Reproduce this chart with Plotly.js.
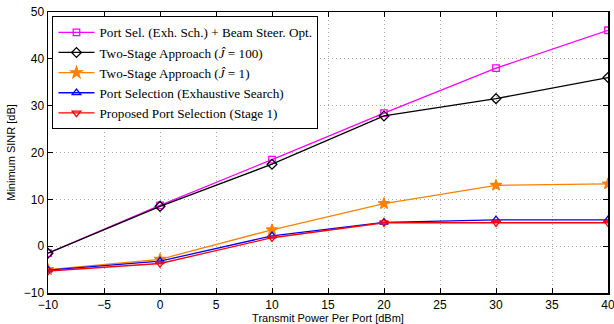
<!DOCTYPE html>
<html><head><meta charset="utf-8">
<script src="https://cdn.plot.ly/plotly-3.0.1.min.js"></script>
<style>body{margin:0;background:#fff}#c{width:614px;height:324px}</style>
</head><body><div id="c"></div>
<script>
const power = [-10, 0, 10, 20, 30, 40];
const beamSteer = [-1.5, 8.7, 18.5, 28.4, 38.0, 46.1];
const twoStage100 = [-1.5, 8.5, 17.5, 27.8, 31.5, 36.0];
const twoStage1 = [-5.0, -2.8, 3.5, 9.1, 13.0, 13.3];
const exhaustive = [-5.1, -3.2, 2.2, 5.1, 5.6, 5.6];
const proposed = [-5.3, -3.7, 1.8, 5.0, 5.0, 5.0];
const names = [
  'Port Sel. (Exh. Sch.) + Beam Steer. Opt.',
  'Two-Stage Approach (<i>Ĵ</i> = 100)',
  'Two-Stage Approach (<i>Ĵ</i> = 1)',
  'Port Selection (Exhaustive Search)',
  'Proposed Port Selection (Stage 1)'
];
const xTicks = [-10, -5, 0, 5, 10, 15, 20, 25, 30, 35, 40];
const yTicks = [-10, 0, 10, 20, 30, 40, 50];
const series = [beamSteer, twoStage100, twoStage1, exhaustive, proposed];
const colors = ['#ff00ff', '#000000', '#ff8000', '#0000ff', '#ff0000'];
const symbols = ['square-open', 'diamond-open', 'star', 'triangle-up-open', 'triangle-down-open'];
const sizes = [6.5, 7.5, 8.5, 7.5, 7.5];
const traces = series.map((y, i) => ({
  x: power, y: y, name: names[i], type: 'scatter', mode: 'lines+markers',
  line: {color: colors[i], width: 1.3},
  marker: {symbol: symbols[i], size: sizes[i], color: colors[i], line: {color: colors[i], width: 1.3}}
}));
const fmt = v => v < 0 ? '\u2212' + Math.abs(v) : String(v);
const axisCommon = {
  showline: true, linecolor: '#000', linewidth: 1.5, mirror: 'ticks',
  ticks: 'inside', ticklen: 5, tickcolor: '#000', ticklabeloverflow: 'allow',
  showgrid: true, gridcolor: '#aaaaaa', griddash: '1px,3px', gridwidth: 1,
  zeroline: false, tickfont: {family: 'Liberation Sans, Arial', size: 12, color: '#000'}
};
const layout = {
  width: 614, height: 324,
  margin: {l: 48, r: 6, t: 12, b: 31},
  paper_bgcolor: '#fff', plot_bgcolor: '#fff',
  showlegend: true,
  legend: {x: 0.008, y: 0.985, xanchor: 'left', yanchor: 'top',
    bgcolor: '#fff', bordercolor: '#000', borderwidth: 1,
    font: {family: 'Liberation Serif, Times New Roman', size: 13.2, color: '#000'},
    tracegroupgap: 0, itemwidth: 36},
  xaxis: Object.assign({}, axisCommon, {range: [-10, 40],
    tickvals: xTicks, ticktext: xTicks.map(fmt),
    title: {text: 'Transmit Power Per Port [dBm]', font: {family: 'Liberation Sans, Arial', size: 11, color: '#000'}, standoff: 3}}),
  yaxis: Object.assign({}, axisCommon, {range: [-10, 50],
    tickvals: yTicks, ticktext: yTicks.map(fmt),
    title: {text: 'Minimum SINR [dB]', font: {family: 'Liberation Sans, Arial', size: 11, color: '#000'}, standoff: 6}})
};
Plotly.newPlot('c', traces, layout, {displayModeBar: false, staticPlot: true});
</script></body></html>
